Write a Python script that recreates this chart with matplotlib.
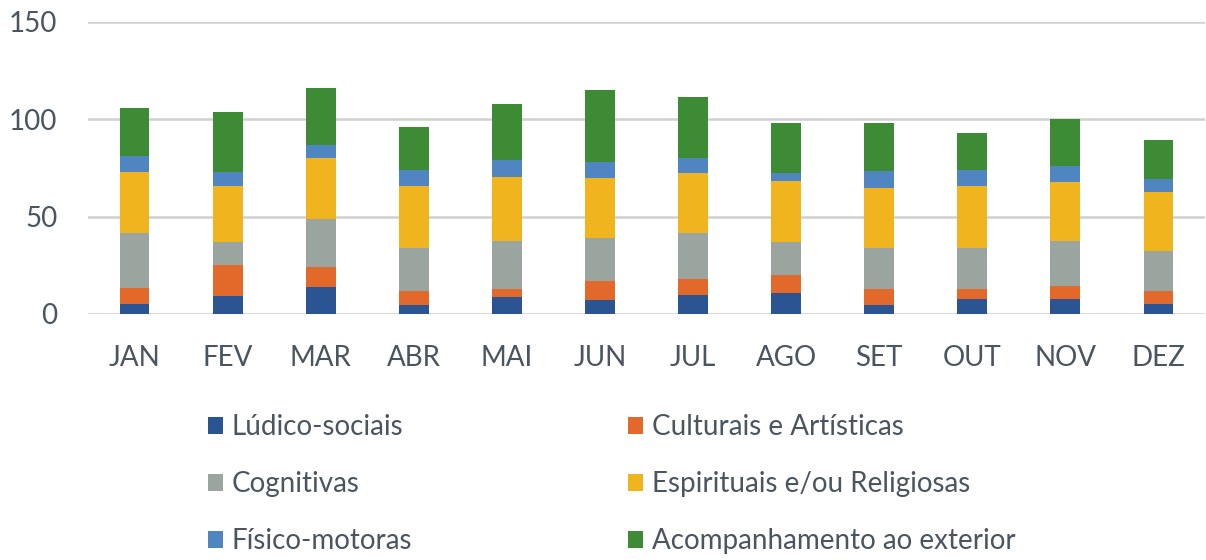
import numpy as np
import matplotlib
matplotlib.use("Agg")
import matplotlib.pyplot as plt

# Data (activities per month)
meses = ["JAN", "FEV", "MAR", "ABR", "MAI", "JUN", "JUL", "AGO", "SET", "OUT", "NOV", "DEZ"]
ludico_sociais = [5, 9, 14, 4.5, 8.5, 7, 10, 11, 4.5, 7.5, 7.5, 5]
culturais_artisticas = [8.5, 16, 10, 7.5, 4.5, 10, 8, 9, 8.5, 5.5, 7, 7]
cognitivas = [28, 12, 25, 22, 24.5, 22, 23.5, 17, 21, 21, 23, 20.5]
espirituais = [31.5, 29, 31, 31.5, 33, 31, 31, 31.5, 30.5, 31.5, 30.5, 30]
fisico_motoras = [8, 7, 7, 8.5, 8.5, 8, 7.5, 4, 9, 8.5, 8, 7]
acompanhamento = [25, 31, 29, 22, 29, 37, 31.5, 25.5, 24.5, 19, 24, 20]

series = [
    ("Lúdico-sociais", ludico_sociais, "#2b5592"),
    ("Culturais e Artísticas", culturais_artisticas, "#e2692a"),
    ("Cognitivas", cognitivas, "#9aa59f"),
    ("Espirituais e/ou Religiosas", espirituais, "#f0b51e"),
    ("Físico-motoras", fisico_motoras, "#4f86c2"),
    ("Acompanhamento ao exterior", acompanhamento, "#3d8b35"),
]

text_color = "#4a5560"
plt.rcParams["font.family"] = ["Lato", "DejaVu Sans"]

fig = plt.figure(figsize=(12.06, 5.6), dpi=100)
ax = fig.add_axes([88 / 1206, 1 - 314 / 560, 1117 / 1206, 292 / 560])

x = np.arange(len(meses))
bottom = np.zeros(len(meses))
handles = []
for name, vals, color in series:
    b = ax.bar(x, vals, 0.32, bottom=bottom, color=color, label=name, zorder=3)
    handles.append(b)
    bottom += np.array(vals)

ax.set_xlim(-0.5, len(meses) - 0.5)
ax.set_ylim(0, 150)
ax.set_yticks([0, 50, 100, 150])
ax.set_xticks(x)
ax.set_xticklabels(meses)
ax.grid(axis="y", color="#d0d0d0", linewidth=1.8, zorder=0)
for s in ax.spines.values():
    s.set_visible(False)
ax.tick_params(axis="both", length=0, labelsize=20, labelcolor=text_color)
ax.tick_params(axis="x", pad=22)
ax.tick_params(axis="y", pad=22)

# legend laid out row by row, two columns
col1 = [handles[0], handles[2], handles[4]]
col2 = [handles[1], handles[3], handles[5]]
for hs, xpos in [(col1, 197 / 1206), (col2, 617 / 1206)]:
    leg = fig.legend(hs, [h.get_label() for h in hs], loc="upper left",
                     bbox_to_anchor=(xpos, 1 - 403 / 560), frameon=False,
                     fontsize=20, handlelength=0.55, handleheight=0.55,
                     handletextpad=0.3, labelspacing=1.12, borderaxespad=0)
    for t in leg.get_texts():
        t.set_color(text_color)

fig.savefig("out.png", dpi=100)
